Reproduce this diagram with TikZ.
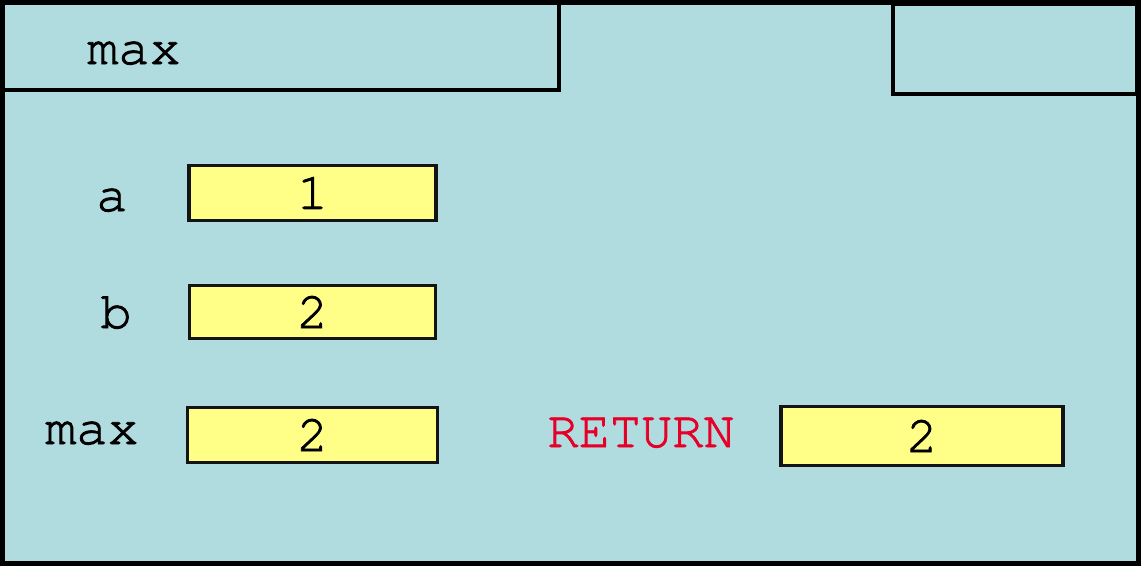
\documentclass[tikz,border=0pt]{standalone}
\usepackage{fontspec}
\setmonofont{TeX Gyre Cursor}[FakeBold=1.6]
\definecolor{frameteal}{HTML}{B0DCDF}
\definecolor{cellyellow}{HTML}{FFFF88}
\definecolor{retred}{HTML}{E60028}
\tikzset{
  cell/.style={draw=black!92,line width=3.2pt,fill=cellyellow,inner sep=0pt,font=\ttfamily\fontsize{52}{52}\selectfont},
  varname/.style={anchor=base,inner sep=0pt,font=\ttfamily\fontsize{52}{52}\selectfont}
}
\begin{document}
\begin{tikzpicture}[x=1pt,y=-1pt]
\useasboundingbox (0,0) rectangle (1141,566);
% frame and header
\draw[line width=4.5pt,fill=frameteal] (2.5,2.5) rectangle (1138.5,563.5);
\draw[line width=3.6pt] (2.5,2.5) rectangle (559,90);
\draw[line width=3.6pt] (893,4) rectangle (1137,94);
\node[varname] (fname) at (134,64) {max};
% variables
\node[varname] (lbla) at (112,211) {a};
\node[cell,minimum width=247pt,minimum height=55pt] (vala) at (312.5,193) {1};
\node[varname] (lblb) at (116,328) {b};
\node[cell,minimum width=246pt,minimum height=53pt] (valb) at (312.5,312) {2};
\node[varname] (lblmax) at (92,444) {max};
\node[cell,minimum width=250pt,minimum height=55pt] (valmax) at (312.5,435) {2};
% return value
\node[varname,text=retred] (lblret) at (641,447) {RETURN};
\node[cell,minimum width=282pt,minimum height=59pt] (valret) at (922,436) {2};
\end{tikzpicture}
\end{document}
